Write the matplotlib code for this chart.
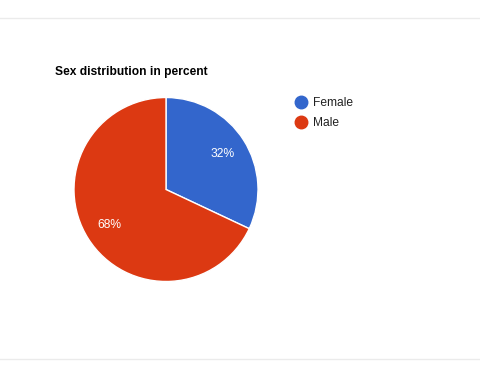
import matplotlib
matplotlib.use('Agg')
import matplotlib.pyplot as plt
from matplotlib.lines import Line2D

# Data
labels = ['Female', 'Male']
shares = [32, 68]
colors = ['#3366cc', '#dc3912']

W, H = 480, 383
plt.rcParams['font.family'] = ['Liberation Sans', 'DejaVu Sans']
fs = 12 * 72 / 100  # 12px

fig = plt.figure(figsize=(W / 100, H / 100), dpi=100)
fig.patch.set_facecolor('white')

# pie area: center (166, 189.5), radius 92 px
cx, cy, r = 166, 189.5, 92
ax = fig.add_axes([(cx - r) / W, (H - cy - r) / H, 2 * r / W, 2 * r / H])
wedges, texts, autotexts = ax.pie(shares, colors=colors, startangle=90, counterclock=False,
                                  autopct='%d%%', pctdistance=0.73,
                                  wedgeprops=dict(edgecolor='white', linewidth=1),
                                  textprops=dict(color='white', fontsize=fs))
ax.set_xlim(-1, 1)
ax.set_ylim(-1, 1)
ax.set_aspect('equal')
ax.axis('off')

# title
fig.text(55 / W, 1 - 72.5 / H, 'Sex distribution in percent', fontsize=fs, fontweight='bold',
         ha='left', va='center', color='black')

# legend
handles = [Line2D([], [], marker='o', linestyle='none', markersize=9,
                  markerfacecolor=c, markeredgecolor=c) for c in colors]
leg = fig.legend(handles, labels, loc='upper left', bbox_to_anchor=(295 / W, 1 - 97 / H),
                 frameon=False, fontsize=fs, handletextpad=0.5, labelspacing=0.7,
                 handlelength=1.0, borderaxespad=0, borderpad=0)
for t in leg.get_texts():
    t.set_color('#222222')

# separator lines
fig.add_artist(Line2D([0, 1], [1 - 18 / H, 1 - 18 / H], color='#ebebeb', linewidth=1))
fig.add_artist(Line2D([0, 1], [1 - 359 / H, 1 - 359 / H], color='#ebebeb', linewidth=1))

fig.savefig('out.png', dpi=100)
